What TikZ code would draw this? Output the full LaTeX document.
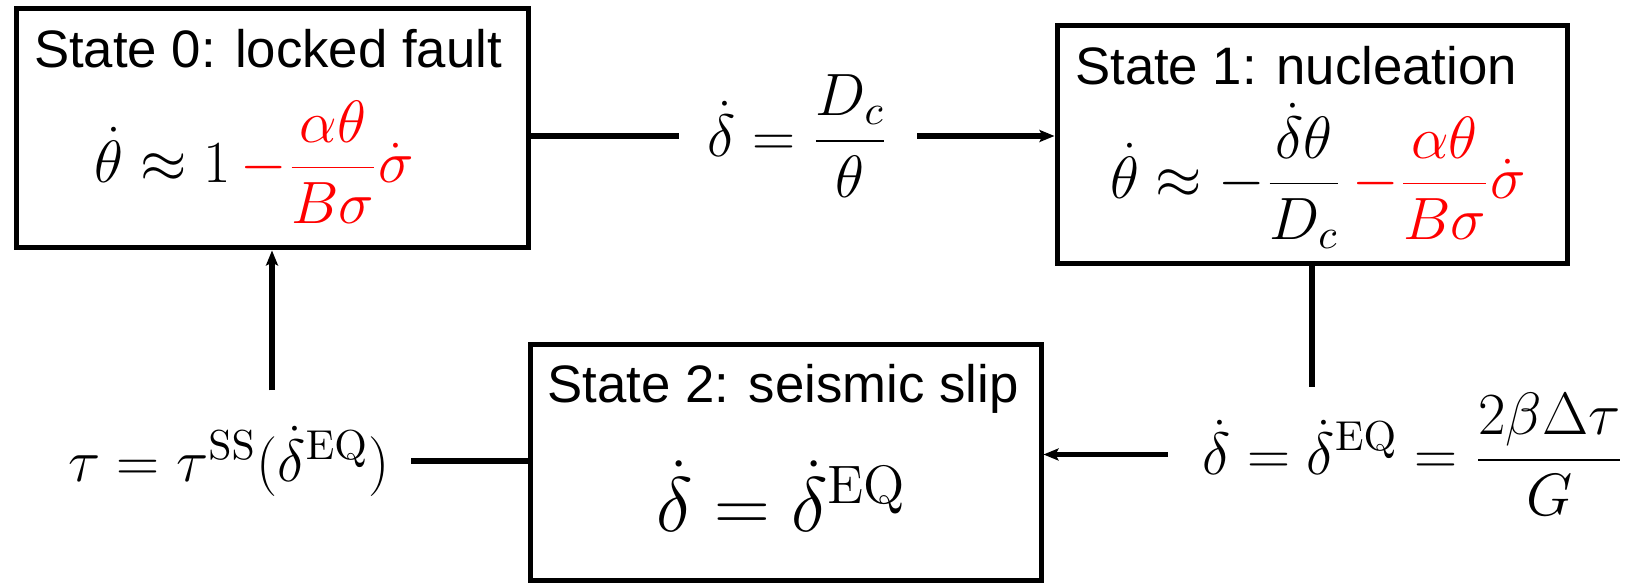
\RequirePackage{fix-cm}
\documentclass[tikz,border=0pt]{standalone}
\usepackage[no-math]{fontspec}
\setmainfont{Liberation Sans}
\usetikzlibrary{arrows.meta}
\begin{document}
\begin{tikzpicture}[
  state/.style={draw, line width=0.05cm, inner sep=0pt},
  title/.style={anchor=base, font=\fontsize{15pt}{18pt}\selectfont},
  eqn/.style={font=\fontsize{17pt}{20pt}\selectfont, inner sep=0pt},
  link/.style={line width=0.055cm},
  >={Stealth[length=0.15cm,width=0.12cm,inset=0.03cm]}
]
\useasboundingbox (0,0) rectangle (16.33,5.83);
% the three states
\node[state, minimum width=5.12cm, minimum height=2.39cm] (s0) at (2.72,4.545) {};
\node[state, minimum width=5.10cm, minimum height=2.38cm] (s1) at (13.12,4.38) {};
\node[state, minimum width=5.11cm, minimum height=2.36cm] (s2) at (7.855,1.20) {};
\node[title] (t0) at (2.68,5.15) {State 0: locked fault};
\node[title] (t1) at (12.96,4.98) {State 1: nucleation};
\node[title] (t2) at (7.83,1.80) {State 2: seismic slip};
\node[eqn] (e0) at (2.545,4.21)
  {$\displaystyle\dot\theta\approx 1\,{\color{red}-\frac{\alpha\theta}{B\sigma}\dot\sigma}$};
\node[eqn] (e1) at (13.18,4.07)
  {$\displaystyle\dot\theta\approx -\frac{\dot\delta\theta}{D_c}\,{\color{red}-\frac{\alpha\theta}{B\sigma}\dot\sigma}$};
\node[eqn, font=\fontsize{22pt}{26pt}\selectfont] (e2) at (7.815,0.87)
  {$\dot\delta=\dot\delta^{\mathrm{EQ}}$};
% transition conditions
\node[eqn, inner xsep=0.28cm] (l01) at (7.98,4.47) {$\displaystyle\dot\delta=\frac{D_c}{\theta}$};
\node[eqn, inner xsep=0.34cm, inner ysep=0.05cm] (l12) at (14.135,1.285)
  {$\displaystyle\dot\delta=\dot\delta^{\mathrm{EQ}}=\frac{2\beta\Delta\tau}{G}$};
\node[eqn, inner xsep=0.2cm, inner ysep=0.35cm] (l20) at (2.29,1.22)
  {$\tau=\tau^{\mathrm{SS}}(\dot\delta^{\mathrm{EQ}})$};
\draw[link] (s0.east |- l01) -- (l01.west);
\draw[link,->] (l01.east) -- (s1.west |- l01);
\draw[link] (s1.south) -- (s1.south |- l12.north);
\draw[link,->] (l12.west) -- (s2.east |- l12);
\draw[link] (s2.west |- l20) -- (l20.east);
\draw[link,->] (s0.south |- l20.north) -- (s0.south);
\end{tikzpicture}
\end{document}
